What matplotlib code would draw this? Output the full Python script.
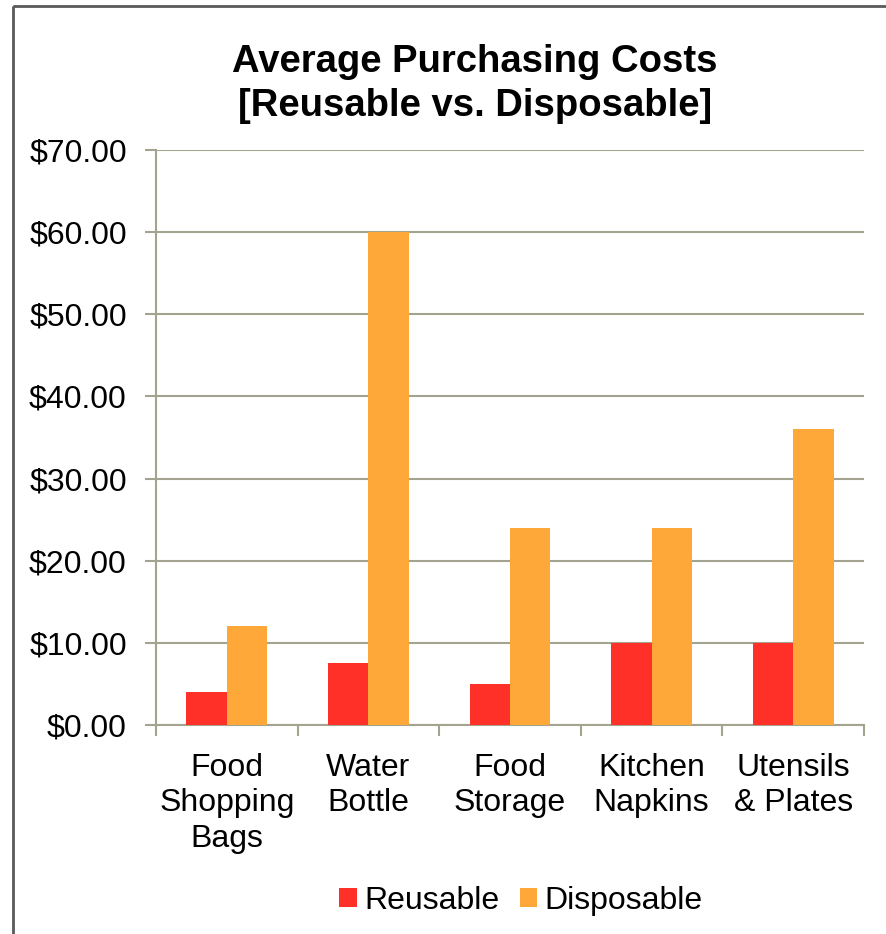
import numpy as np
import matplotlib.pyplot as plt
from matplotlib.patches import Rectangle
from matplotlib.ticker import FuncFormatter

# chart data
categories = ['Food\nShopping\nBags', 'Water\nBottle', 'Food\nStorage', 'Kitchen\nNapkins', 'Utensils\n& Plates']
reusable = [4, 7.5, 5, 10, 10]
disposable = [12, 60, 24, 24, 36]

plt.rcParams['font.family'] = ['Liberation Sans', 'DejaVu Sans']

W, H = 887, 934
fig = plt.figure(figsize=(W / 100, H / 100), dpi=100)

# outer chart border (runs off the right and bottom edges)
fig.patches.append(Rectangle((13 / W, 1 - 6 / H), 1, -1, transform=fig.transFigure,
                             fill=False, edgecolor='#5a5a5a', linewidth=2))

left, right, top, bottom = 156, 864, 150, 725
ax = fig.add_axes([left / W, 1 - bottom / H, (right - left) / W, (bottom - top) / H])

x = np.arange(len(categories))
bw = 0.285
ax.bar(x - bw / 2, reusable, bw, color='#FF3028', label='Reusable', zorder=3)
ax.bar(x + bw / 2, disposable, bw, color='#FFA83A', label='Disposable', zorder=3)

ax.set_xlim(-0.5, len(categories) - 0.5)
ax.set_ylim(0, 70)
ax.set_yticks(np.arange(0, 71, 10))
ax.yaxis.set_major_formatter(FuncFormatter(lambda v, p: '${:.2f}'.format(v)))
grid_col = '#A3A38F'
ax.yaxis.grid(True, color=grid_col, linewidth=1.5, zorder=0)

for s in ['top', 'right']:
    ax.spines[s].set_visible(False)
for s in ['left', 'bottom']:
    ax.spines[s].set_color(grid_col)
    ax.spines[s].set_linewidth(1.5)

ax.set_xticks(x)
ax.set_xticklabels(categories, fontsize=23, linespacing=1.24)
ax.set_xticks(np.arange(-0.5, len(categories), 1), minor=True)
ax.tick_params(axis='x', which='major', length=0, pad=20)
ax.tick_params(axis='x', which='minor', length=8, width=1.5, color=grid_col, direction='out')
ax.tick_params(axis='y', length=8, width=1.5, color=grid_col, labelsize=23, pad=13)

fig.text(475 / W, 1 - 84 / H, 'Average Purchasing Costs\n[Reusable vs. Disposable]',
         ha='center', va='center', fontsize=27.5, fontweight='bold', linespacing=1.32)

fig.legend(loc='center', bbox_to_anchor=(521 / W, 1 - 901 / H), ncol=2, frameon=False,
           fontsize=23, handlelength=0.55, handleheight=0.55, handletextpad=0.22, columnspacing=0.65)

fig.savefig('out.png', dpi=100)
